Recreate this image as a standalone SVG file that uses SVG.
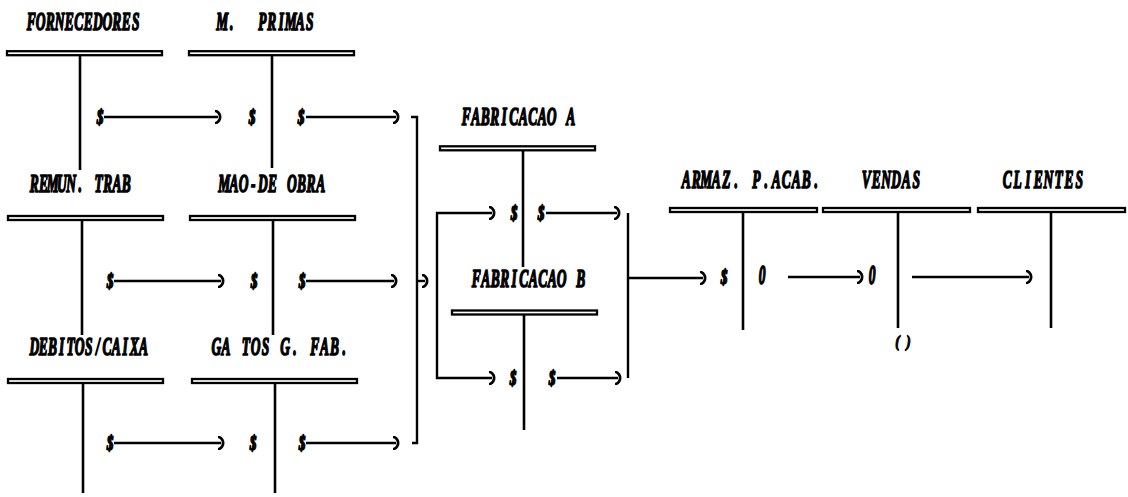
<svg xmlns="http://www.w3.org/2000/svg" width="1128" height="497" viewBox="0 0 1128 497">
  <defs>
    <style>
      .lb{font-family:"Liberation Serif","Times New Roman",serif;font-weight:bold;font-style:italic;font-size:13.5px;fill:#000;stroke:#000;stroke-width:.9;stroke-linejoin:round;text-anchor:middle}
      .bar{fill:#fff;stroke:#000;stroke-width:2.3}
      .stem{stroke:#000;stroke-width:2.6;fill:none}
      .cn{stroke:#000;stroke-width:2.4;fill:none;marker-end:url(#par)}
      .br{stroke:#000;stroke-width:2.4;fill:none}
    </style>
    <!-- closing-paren arrowhead used by every flow line -->
    <marker id="par" viewBox="0 0 9 14" refX="3" refY="7" markerWidth="9" markerHeight="14" markerUnits="userSpaceOnUse" orient="auto">
      <path d="M1,1 C6.5,3.5 6.5,10.5 1,13" fill="none" stroke="#000" stroke-width="2.7" stroke-linecap="round"/>
    </marker>
  </defs>
  <rect width="1128" height="497" fill="#fff"/>

  <!-- row 1 -->
  <g id="fornecedores">
    <rect class="bar" x="7" y="51.2" width="155" height="4"/>
    <line class="stem" x1="80" y1="56" x2="80" y2="170"/>
    <text class="lb" transform="translate(31.25,30) scale(1,1.9)" x="0 9.5 19 28.5 38 47.5 57 66.5 76 85.5 95 104.5">FORNECEDORES</text>
    <text class="lb" transform="translate(100,123.6) scale(1,1.6)">$</text>
  </g>
  <g id="m-primas">
    <rect class="bar" x="189" y="51.2" width="165" height="4"/>
    <line class="stem" x1="272" y1="56" x2="272" y2="168"/>
    <text class="lb" transform="translate(222.25,30) scale(1,1.9)" x="0 9.5 19 40 49.5 59 68.5 78 87.5">M. PRIMAS</text>
    <text class="lb" transform="translate(252,123.6) scale(1,1.6)">$</text>
    <text class="lb" transform="translate(301,123.6) scale(1,1.6)">$</text>
  </g>

  <!-- row 2 -->
  <g id="remun-trab">
    <rect class="bar" x="8" y="216" width="155" height="4"/>
    <line class="stem" x1="82" y1="221" x2="82" y2="335"/>
    <text class="lb" transform="translate(34.25,192) scale(1,1.9)" x="0 9.2 18.4 27.6 36.8 46 55.2 64.4 73.6 82.8 92">REMUN. TRAB</text>
    <text class="lb" transform="translate(110,287.6) scale(1,1.6)">$</text>
  </g>
  <g id="mao-de-obra">
    <rect class="bar" x="190" y="216" width="165" height="4"/>
    <line class="stem" x1="273" y1="221" x2="273" y2="335"/>
    <text class="lb" transform="translate(224.25,192) scale(1,1.9)" x="0 9.65 19.3 28.95 38.6 48.25 57.9 67.55 77.2 86.85 96.5">MAO-DE OBRA</text>
    <text class="lb" transform="translate(254,287.6) scale(1,1.6)">$</text>
    <text class="lb" transform="translate(302,287.6) scale(1,1.6)">$</text>
  </g>

  <!-- row 3 -->
  <g id="debitos-caixa">
    <rect class="bar" x="8" y="379" width="155" height="4"/>
    <line class="stem" x1="83" y1="384" x2="83" y2="493"/>
    <text class="lb" transform="translate(34.25,355) scale(1,1.9)" x="0 9.1 18.2 27.3 36.4 45.5 54.6 63.7 72.8 81.9 91 100.1 109.2">DEBITOS/CAIXA</text>
    <text class="lb" transform="translate(110,449.6) scale(1,1.6)">$</text>
  </g>
  <g id="gastos-g-fab">
    <rect class="bar" x="192" y="379" width="165" height="4"/>
    <line class="stem" x1="275" y1="384" x2="275" y2="493"/>
    <text class="lb" transform="translate(216.25,355) scale(1,1.9)" x="0 9.85 19.7 29.55 39.4 49.25 59.1 68.95 78.8 88.65 98.5 108.35 118.2 128.05">GA TOS G. FAB.</text>
    <text class="lb" transform="translate(253,449.6) scale(1,1.6)">$</text>
    <text class="lb" transform="translate(302,449.6) scale(1,1.6)">$</text>
  </g>

  <!-- production accounts -->
  <g id="fabricacao-a">
    <rect class="bar" x="440" y="146.3" width="155" height="4"/>
    <line class="stem" x1="523" y1="151" x2="523" y2="267"/>
    <text class="lb" transform="translate(466.25,125) scale(1,1.9)" x="0 9.5 19 28.5 38 47.5 57 66.5 76 85.5 95 104.5">FABRICACAO A</text>
    <text class="lb" transform="translate(514,219.6) scale(1,1.6)">$</text>
    <text class="lb" transform="translate(541,219.6) scale(1,1.6)">$</text>
  </g>
  <g id="fabricacao-b">
    <rect class="bar" x="452" y="310.5" width="145" height="4"/>
    <line class="stem" x1="524" y1="315" x2="524" y2="430"/>
    <text class="lb" transform="translate(476.25,287) scale(1,1.9)" x="0 9.5 19 28.5 38 47.5 57 66.5 76 85.5 95 104.5">FABRICACAO B</text>
    <text class="lb" transform="translate(513,384.6) scale(1,1.6)">$</text>
    <text class="lb" transform="translate(552,384.6) scale(1,1.6)">$</text>
  </g>

  <!-- finished goods, sales, customers -->
  <g id="armaz-p-acab">
    <rect class="bar" x="670" y="208" width="147" height="4"/>
    <line class="stem" x1="743" y1="213" x2="743" y2="330"/>
    <text class="lb" transform="translate(686.25,188) scale(1,1.9)" x="0 10 20 30 40 50 60 70 80 90 100 110 120 130">ARMAZ. P.ACAB.</text>
    <text class="lb" transform="translate(724,283.6) scale(1,1.6)">$</text>
    <text class="lb" transform="translate(762,284) scale(1,2)">0</text>
  </g>
  <g id="vendas">
    <rect class="bar" x="823" y="208" width="147" height="4"/>
    <line class="stem" x1="898" y1="213" x2="898" y2="328"/>
    <text class="lb" transform="translate(866.25,188) scale(1,1.9)" x="0 10 20 30 40 50">VENDAS</text>
    <text class="lb" transform="translate(872,284) scale(1,2)">0</text>
    <text class="lb" transform="translate(903,347) scale(1,1.3)" x="-5.5 5.5">()</text>
  </g>
  <g id="clientes">
    <rect class="bar" x="978" y="208" width="147" height="4"/>
    <line class="stem" x1="1051" y1="213" x2="1051" y2="328"/>
    <text class="lb" transform="translate(1007.25,188) scale(1,1.9)" x="0 10.3 20.6 30.9 41.2 51.5 61.8 72.1">CLIENTES</text>
  </g>

  <!-- flows between accounts -->
  <g id="connectors">
    <path class="cn" d="M104,117 H218"/>
    <path class="cn" d="M306,117 H396"/>
    <path class="cn" d="M114,281 H221"/>
    <path class="cn" d="M306,281 H394"/>
    <path class="cn" d="M114,443 H221"/>
    <path class="cn" d="M306,443 H396"/>
    <path class="br" d="M411,117 H417 V443 H412"/>
    <path class="cn" d="M417,281 H425"/>
    <path class="cn" d="M437,281 V213 H492"/>
    <path class="cn" d="M437,281 V378 H492"/>
    <path class="cn" d="M546,213 H617"/>
    <path class="cn" d="M557,378 H618"/>
    <path class="br" d="M628,213 V378"/>
    <path class="cn" d="M628,278 H703"/>
    <path class="cn" d="M788,277 H860"/>
    <path class="cn" d="M912,277 H1029"/>
  </g>
</svg>
